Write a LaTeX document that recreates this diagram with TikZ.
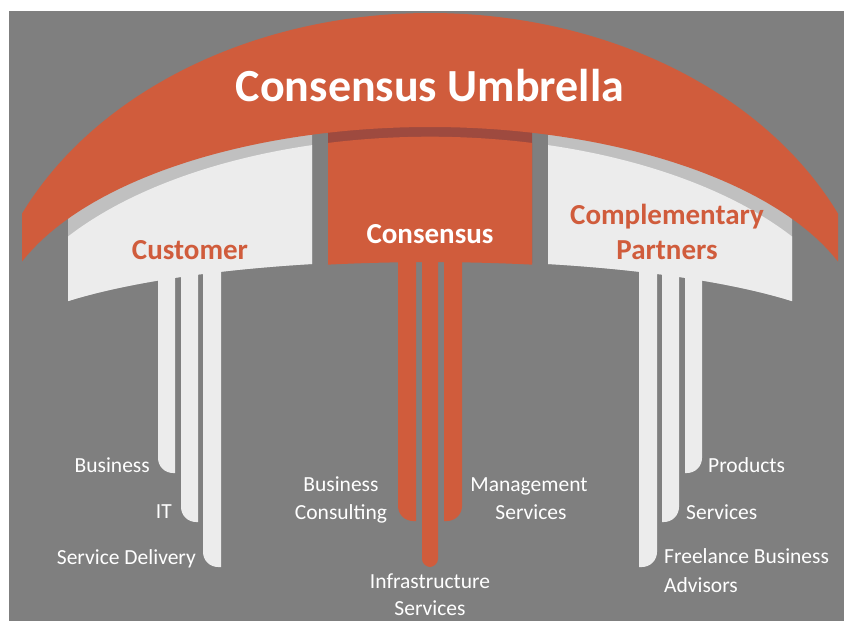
\documentclass[tikz,border=0pt]{standalone}
\usepackage{fontspec}
\setmainfont{Carlito}
\definecolor{bg}{HTML}{7F7F7F}
\definecolor{umb}{HTML}{D05C3C}
\definecolor{lite}{HTML}{ECECEC}
\definecolor{stripe}{HTML}{C0C0C0}
\definecolor{darkstripe}{HTML}{9E4A3F}
% curves (x in px, y downwards in px)
\newcommand\uOut[1]{360-347*sqrt(1-((#1-430)/450)^2)}
\newcommand\uIn[1]{333-206*sqrt(1-((#1-430)/435)^2)}
\newcommand\bTop[1]{360.7-224*sqrt(1-((#1-430)/435)^2)}
\newcommand\bBot[1]{351.6-91*sqrt(1-((#1-430)/435)^2)}
% pillars: color, left, right, bottom, top
\newcommand\pillarBL[5]{\fill[#1] (#3,#5) -- (#3,#4) -- ({#2+15},#4) .. controls ({#2+6.7},#4) and (#2,{#4-6.7}) .. (#2,{#4-15}) -- (#2,#5) -- cycle;}
\newcommand\pillarBR[5]{\fill[#1] (#2,#5) -- (#2,#4) -- ({#3-15},#4) .. controls ({#3-6.7},#4) and (#3,{#4-6.7}) .. (#3,{#4-15}) -- (#3,#5) -- cycle;}
\newcommand\pillarRnd[5]{\fill[#1] (#2,#5) -- (#2,{#4-8}) .. controls (#2,{#4-3.6}) and ({#2+4.4},#4) .. ({#2+8},#4) .. controls ({#3-4.4},#4) and (#3,{#4-3.6}) .. (#3,{#4-8}) -- (#3,#5) -- cycle;}
\begin{document}
\begin{tikzpicture}[x=1pt,y=-1pt,
  lbl/.style={text=white, inner sep=0pt, font=\fontsize{21.5}{26}\selectfont},
  boxtitle/.style={text=umb, inner sep=0pt, font=\bfseries\fontsize{29}{35}\selectfont},
  whitetitle/.style={text=white, inner sep=0pt, font=\bfseries\fontsize{29}{35}\selectfont},
  bigtitle/.style={text=white, inner sep=0pt, font=\bfseries\fontsize{46}{55}\selectfont}]
\useasboundingbox (0,0) rectangle (844,621);
\fill[white] (0,0) rectangle (844,621);
\fill[bg] (9,11) rectangle (844,621);

% left box
\fill[stripe] plot[domain=68:312,samples=60] (\x,{\uIn{\x}-3}) -- plot[domain=312:68,samples=60] (\x,{\bBot{\x}}) -- cycle;
\fill[lite] plot[domain=68:312,samples=60] (\x,{\bTop{\x}}) -- plot[domain=312:68,samples=60] (\x,{\bBot{\x}}) -- cycle;
% center box
\fill[darkstripe] plot[domain=328:532,samples=40] (\x,{\uIn{\x}-3}) -- plot[domain=532:328,samples=40] (\x,{\bBot{\x}}) -- cycle;
\fill[umb] plot[domain=328:532,samples=40] (\x,{\bTop{\x}}) -- plot[domain=532:328,samples=40] (\x,{\bBot{\x}+1.5}) -- cycle;
% right box
\fill[stripe] plot[domain=548:792,samples=60] (\x,{\uIn{\x}-3}) -- plot[domain=792:548,samples=60] (\x,{\bBot{\x}}) -- cycle;
\fill[lite] plot[domain=548:792,samples=60] (\x,{\bTop{\x}}) -- plot[domain=792:548,samples=60] (\x,{\bBot{\x}}) -- cycle;

% pillars left
\pillarBL{lite}{158}{175}{473}{262}
\pillarBL{lite}{181}{198}{522}{262}
\pillarBL{lite}{203}{221}{567}{262}
% pillars center
\pillarBL{umb}{398}{416}{521}{255}
\pillarRnd{umb}{422}{438}{567}{255}
\pillarBR{umb}{444}{462}{521}{255}
% pillars right
\pillarBR{lite}{639}{657}{567}{262}
\pillarBR{lite}{662}{679}{522}{262}
\pillarBR{lite}{685}{702}{473}{262}

% umbrella
\fill[umb] plot[domain=22:838,samples=150] (\x,{\uOut{\x}}) -- plot[domain=838:22,samples=150] (\x,{\uIn{\x}}) -- cycle;

% titles
\node[bigtitle, anchor=base] (umbrella) at (430,101) {Consensus Umbrella};
\node[boxtitle, anchor=base] (customer) at (190,259) {Customer};
\node[whitetitle, anchor=base] (consensus) at (430,243) {Consensus};
\node[boxtitle, anchor=base] (compl) at (667,224) {Complementary};
\node[boxtitle, anchor=base] (partners) at (667,259) {Partners};

% left labels
\node[lbl, anchor=base east] (cbus) at (150,472) {Business};
\node[lbl, anchor=base east] (cit) at (172,518) {IT};
\node[lbl, anchor=base east] (csd) at (196,564) {Service Delivery};
% center labels
\node[lbl, anchor=base] (bc1) at (341,491) {Business};
\node[lbl, anchor=base] (bc2) at (341,519) {Consulting};
\node[lbl, anchor=base] (ms1) at (529,491) {Management};
\node[lbl, anchor=base] (ms2) at (531,519) {Services};
\node[lbl, anchor=base] (is1) at (430,588) {Infrastructure};
\node[lbl, anchor=base] (is2) at (430,615) {Services};
% right labels
\node[lbl, anchor=base west] (pprod) at (708,472) {Products};
\node[lbl, anchor=base west] (pserv) at (686,519) {Services};
\node[lbl, anchor=base west] (pfree1) at (664,563) {Freelance Business};
\node[lbl, anchor=base west] (pfree2) at (664,592) {Advisors};
\end{tikzpicture}
\end{document}
